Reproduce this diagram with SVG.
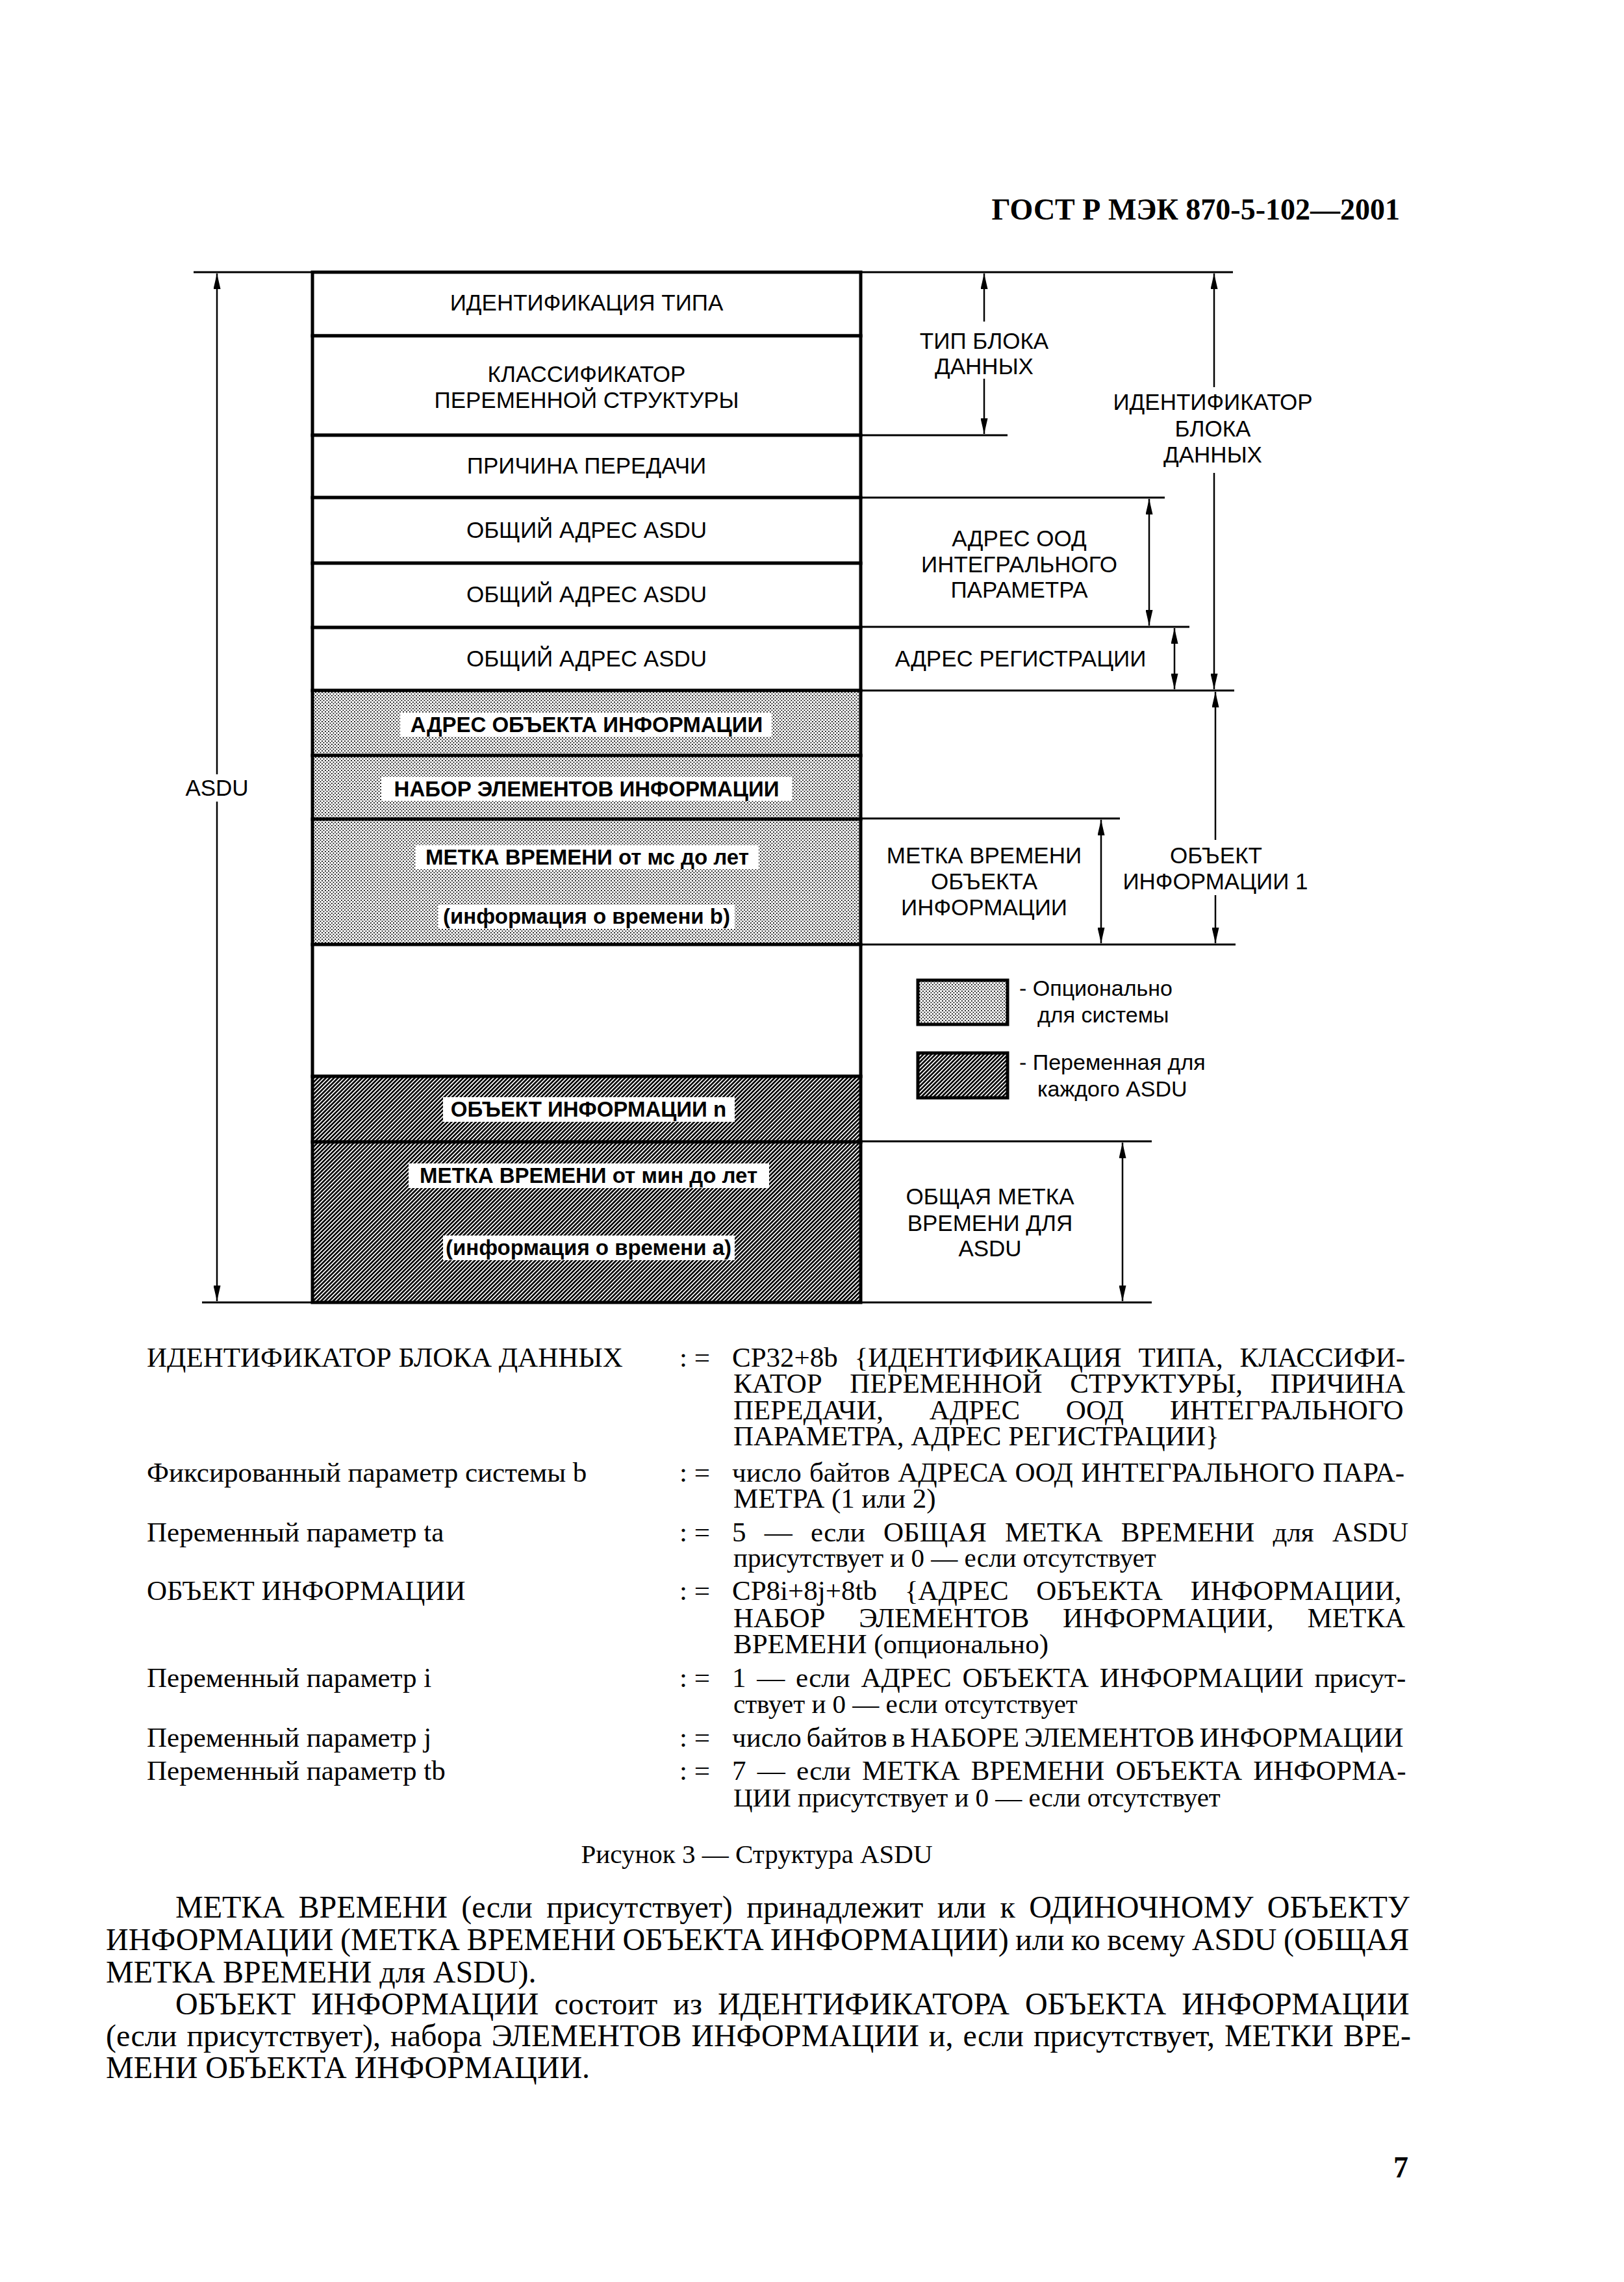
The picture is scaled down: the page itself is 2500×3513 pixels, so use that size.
<svg xmlns="http://www.w3.org/2000/svg" width="2500" height="3513" viewBox="0 0 2500 3513">
<defs>
<style>
.lbl{font-family:"Liberation Sans",Arial,sans-serif;font-size:35px;text-anchor:middle;fill:#000}
.lblb{font-family:"Liberation Sans",Arial,sans-serif;font-size:33px;font-weight:bold;text-anchor:middle;fill:#000}
.leg{font-family:"Liberation Sans",Arial,sans-serif;font-size:34px;fill:#000}
.row{stroke:#000;stroke-width:5}
.wbox{fill:#fff}
.dim{stroke:#000;stroke-width:3;fill:none}
.arr{stroke:#000;stroke-width:2.5;fill:none}
.body{font-family:"Liberation Serif","Times New Roman",serif;font-size:43px;fill:#000}
.small{font-size:41px}
.para{font-family:"Liberation Serif","Times New Roman",serif;font-size:48px;fill:#000}
.hdr{font-family:"Liberation Serif","Times New Roman",serif;font-size:46px;font-weight:bold;text-anchor:end;fill:#000}
</style>
<pattern id="dots" width="5" height="5" patternUnits="userSpaceOnUse">
<rect width="5" height="5" fill="#fff"/>
<rect x="0" y="0" width="1.8" height="1.8" fill="#000"/>
<rect x="2.5" y="2.5" width="1.8" height="1.8" fill="#000"/>
</pattern>
<pattern id="hatch" width="4.4" height="4.4" patternUnits="userSpaceOnUse" patternTransform="rotate(45)">
<rect width="4.4" height="4.4" fill="#fff"/>
<rect x="0" y="0" width="2.7" height="4.4" fill="#000"/>
</pattern>
<marker id="ah" viewBox="0 0 24 11" refX="24" refY="5.5" markerWidth="24" markerHeight="11" markerUnits="userSpaceOnUse" orient="auto-start-reverse">
<path d="M0,0 L24,5.5 L0,11 Z" fill="#000"/>
</marker>
</defs>
<rect width="2500" height="3513" fill="#fff"/>

<text id="header" class="hdr" x="2155" y="338">ГОСТ Р МЭК 870-5-102—2001</text>

<g id="connectors">
<line class="dim" x1="298" y1="419" x2="1898" y2="419"/>
<line class="dim" x1="311" y1="2005" x2="1773" y2="2005"/>
<line class="dim" x1="1325" y1="670" x2="1551" y2="670"/>
<line class="dim" x1="1325" y1="766" x2="1793" y2="766"/>
<line class="dim" x1="1325" y1="965" x2="1831" y2="965"/>
<line class="dim" x1="1325" y1="1063" x2="1900" y2="1063"/>
<line class="dim" x1="1325" y1="1260" x2="1724" y2="1260"/>
<line class="dim" x1="1325" y1="1454" x2="1902" y2="1454"/>
<line class="dim" x1="1325" y1="1757" x2="1773" y2="1757"/>
<path class="arr" d="M334,421 V1192" marker-start="url(#ah)"/>
<path class="arr" d="M334,1234 V2003" marker-end="url(#ah)"/>
<path class="arr" d="M1515,421 V495" marker-start="url(#ah)"/>
<path class="arr" d="M1515,583 V668" marker-end="url(#ah)"/>
<path class="arr" d="M1869,421 V596" marker-start="url(#ah)"/>
<path class="arr" d="M1869,728 V1061" marker-end="url(#ah)"/>
<path class="arr" d="M1769,768 V963" marker-start="url(#ah)" marker-end="url(#ah)"/>
<path class="arr" d="M1808,967 V1061" marker-start="url(#ah)" marker-end="url(#ah)"/>
<path class="arr" d="M1695,1262 V1452" marker-start="url(#ah)" marker-end="url(#ah)"/>
<path class="arr" d="M1871,1065 V1293" marker-start="url(#ah)"/>
<path class="arr" d="M1871,1378 V1452" marker-end="url(#ah)"/>
<path class="arr" d="M1728,1759 V2003" marker-start="url(#ah)" marker-end="url(#ah)"/>
</g>

<g id="asdu-label"><text class="lbl" x="334" y="1225">ASDU</text></g>

<g id="row-type-id"><rect class="row" x="481" y="419" width="844" height="98" fill="#fff"/><text class="lbl" x="903" y="478">ИДЕНТИФИКАЦИЯ ТИПА</text></g>
<g id="row-vsq"><rect class="row" x="481" y="517" width="844" height="153" fill="#fff"/><text class="lbl" x="903" y="588">КЛАССИФИКАТОР</text><text class="lbl" x="903" y="628">ПЕРЕМЕННОЙ СТРУКТУРЫ</text></g>
<g id="row-cot"><rect class="row" x="481" y="670" width="844" height="96" fill="#fff"/><text class="lbl" x="903" y="729">ПРИЧИНА ПЕРЕДАЧИ</text></g>
<g id="row-addr1"><rect class="row" x="481" y="766" width="844" height="101" fill="#fff"/><text class="lbl" x="903" y="828">ОБЩИЙ АДРЕС ASDU</text></g>
<g id="row-addr2"><rect class="row" x="481" y="867" width="844" height="99" fill="#fff"/><text class="lbl" x="903" y="927">ОБЩИЙ АДРЕС ASDU</text></g>
<g id="row-addr3"><rect class="row" x="481" y="966" width="844" height="97" fill="#fff"/><text class="lbl" x="903" y="1026">ОБЩИЙ АДРЕС ASDU</text></g>
<g id="row-ioa"><rect class="row" x="481" y="1063" width="844" height="100" fill="url(#dots)"/><rect class="wbox" x="616" y="1097" width="572" height="37"/><text class="lblb" x="903" y="1127">АДРЕС ОБЪЕКТА ИНФОРМАЦИИ</text></g>
<g id="row-elements"><rect class="row" x="481" y="1163" width="844" height="98" fill="url(#dots)"/><rect class="wbox" x="587" y="1196" width="632" height="37"/><text class="lblb" x="903" y="1226">НАБОР ЭЛЕМЕНТОВ ИНФОРМАЦИИ</text></g>
<g id="row-timetag-b"><rect class="row" x="481" y="1261" width="844" height="193" fill="url(#dots)"/><rect class="wbox" x="640" y="1301" width="528" height="37"/><text class="lblb" x="904" y="1331">МЕТКА ВРЕМЕНИ от мс до лет</text><rect class="wbox" x="675" y="1393" width="456" height="37"/><text class="lblb" x="903" y="1422">(информация о времени b)</text></g>
<g id="row-empty"><rect class="row" x="481" y="1454" width="844" height="203" fill="#fff"/></g>
<g id="row-object-n"><rect class="row" x="481" y="1657" width="844" height="101" fill="url(#hatch)"/><rect class="wbox" x="682" y="1689" width="449" height="38"/><text class="lblb" x="906" y="1719">ОБЪЕКТ ИНФОРМАЦИИ n</text></g>
<g id="row-timetag-a"><rect class="row" x="481" y="1758" width="844" height="247" fill="url(#hatch)"/><rect class="wbox" x="629" y="1791" width="555" height="38"/><text class="lblb" x="906" y="1821">МЕТКА ВРЕМЕНИ от мин до лет</text><rect class="wbox" x="682" y="1902" width="449" height="38"/><text class="lblb" x="906" y="1932">(информация о времени a)</text></g>

<g id="lbl-type"><text class="lbl" x="1515" y="537">ТИП БЛОКА</text><text class="lbl" x="1515" y="576">ДАННЫХ</text></g>
<g id="lbl-duid"><text class="lbl" x="1867" y="631">ИДЕНТИФИКАТОР</text><text class="lbl" x="1867" y="672">БЛОКА</text><text class="lbl" x="1867" y="712">ДАННЫХ</text></g>
<g id="lbl-ood"><text class="lbl" x="1569" y="841">АДРЕС ООД</text><text class="lbl" x="1569" y="881">ИНТЕГРАЛЬНОГО</text><text class="lbl" x="1569" y="920">ПАРАМЕТРА</text></g>
<g id="lbl-reg"><text class="lbl" x="1571" y="1026">АДРЕС РЕГИСТРАЦИИ</text></g>
<g id="lbl-tt-obj"><text class="lbl" x="1515" y="1329">МЕТКА ВРЕМЕНИ</text><text class="lbl" x="1515" y="1369">ОБЪЕКТА</text><text class="lbl" x="1515" y="1409">ИНФОРМАЦИИ</text></g>
<g id="lbl-obj1"><text class="lbl" x="1872" y="1329">ОБЪЕКТ</text><text class="lbl" x="1871" y="1369">ИНФОРМАЦИИ 1</text></g>
<g id="lbl-common-tt"><text class="lbl" x="1524" y="1854">ОБЩАЯ МЕТКА</text><text class="lbl" x="1524" y="1895">ВРЕМЕНИ ДЛЯ</text><text class="lbl" x="1524" y="1934">ASDU</text></g>

<g id="legend">
<rect x="1413" y="1509" width="138" height="68" fill="url(#dots)" stroke="#000" stroke-width="5"/>
<text class="leg" x="1569" y="1533">- Опционально</text>
<text class="leg" x="1597" y="1574">для системы</text>
<rect x="1413" y="1621" width="138" height="69" fill="url(#hatch)" stroke="#000" stroke-width="5"/>
<text class="leg" x="1569" y="1647">- Переменная для</text>
<text class="leg" x="1597" y="1688">каждого ASDU</text>
</g>

<g id="definitions">
<text class="body" x="226" y="2104">ИДЕНТИФИКАТОР БЛОКА ДАННЫХ</text>
<text class="body" x="1046" y="2104">: =</text>
<text class="body" x="1127" y="2104" style="word-spacing:15px">CP32+8b {ИДЕНТИФИКАЦИЯ ТИПА, КЛАССИФИ-</text>
<text class="body" x="1129" y="2144" style="word-spacing:32px">КАТОР ПЕРЕМЕННОЙ СТРУКТУРЫ, ПРИЧИНА</text>
<text class="body" x="1129" y="2185" style="word-spacing:60px">ПЕРЕДАЧИ, АДРЕС ООД ИНТЕГРАЛЬНОГО</text>
<text class="body" x="1129" y="2225">ПАРАМЕТРА, АДРЕС РЕГИСТРАЦИИ}</text>

<text class="body" x="226" y="2281">Фиксированный параметр системы b</text>
<text class="body" x="1046" y="2281">: =</text>
<text class="body" x="1127" y="2281" style="word-spacing:1.5px">число байтов АДРЕСА ООД ИНТЕГРАЛЬНОГО ПАРА-</text>
<text class="body" x="1129" y="2321">МЕТРА (1 или 2)</text>

<text class="body" x="226" y="2373">Переменный параметр ta</text>
<text class="body" x="1046" y="2373">: =</text>
<text class="body" x="1127" y="2373" style="word-spacing:17.5px">5 — если ОБЩАЯ МЕТКА ВРЕМЕНИ для ASDU</text>
<text class="body small" x="1129" y="2412">присутствует и 0 — если отсутствует</text>

<text class="body" x="226" y="2463">ОБЪЕКТ ИНФОРМАЦИИ</text>
<text class="body" x="1046" y="2463">: =</text>
<text class="body" x="1127" y="2463" style="word-spacing:32px">CP8i+8j+8tb {АДРЕС ОБЪЕКТА ИНФОРМАЦИИ,</text>
<text class="body" x="1129" y="2505" style="word-spacing:41px">НАБОР ЭЛЕМЕНТОВ ИНФОРМАЦИИ, МЕТКА</text>
<text class="body" x="1129" y="2545">ВРЕМЕНИ (опционально)</text>

<text class="body" x="226" y="2597">Переменный параметр i</text>
<text class="body" x="1046" y="2597">: =</text>
<text class="body" x="1127" y="2597" style="word-spacing:6px">1 — если АДРЕС ОБЪЕКТА ИНФОРМАЦИИ присут-</text>
<text class="body small" x="1129" y="2637">ствует и 0 — если отсутствует</text>

<text class="body" x="226" y="2689">Переменный параметр j</text>
<text class="body" x="1046" y="2689">: =</text>
<text class="body" x="1127" y="2689" style="word-spacing:-3px">число байтов в НАБОРЕ ЭЛЕМЕНТОВ ИНФОРМАЦИИ</text>

<text class="body" x="226" y="2740">Переменный параметр tb</text>
<text class="body" x="1046" y="2740">: =</text>
<text class="body" x="1127" y="2740" style="word-spacing:6.5px">7 — если МЕТКА ВРЕМЕНИ ОБЪЕКТА ИНФОРМА-</text>
<text class="body small" x="1129" y="2781">ЦИИ присутствует и 0 — если отсутствует</text>
</g>

<text id="caption" class="body" x="1165" y="2868" style="font-size:41px;text-anchor:middle">Рисунок 3 — Структура ASDU</text>

<g id="paragraph">
<text class="para" x="270" y="2952" style="word-spacing:9.5px">МЕТКА ВРЕМЕНИ (если присутствует) принадлежит или к ОДИНОЧНОМУ ОБЪЕКТУ</text>
<text class="para" x="163" y="3002" style="word-spacing:-1.5px">ИНФОРМАЦИИ (МЕТКА ВРЕМЕНИ ОБЪЕКТА ИНФОРМАЦИИ) или ко всему ASDU (ОБЩАЯ</text>
<text class="para" x="163" y="3052">МЕТКА ВРЕМЕНИ для ASDU).</text>
<text class="para" x="270" y="3101" style="word-spacing:12px">ОБЪЕКТ ИНФОРМАЦИИ состоит из ИДЕНТИФИКАТОРА ОБЪЕКТА ИНФОРМАЦИИ</text>
<text class="para" x="163" y="3150" style="word-spacing:3px">(если присутствует), набора ЭЛЕМЕНТОВ ИНФОРМАЦИИ и, если присутствует, МЕТКИ ВРЕ-</text>
<text class="para" x="163" y="3199">МЕНИ ОБЪЕКТА ИНФОРМАЦИИ.</text>
</g>

<text id="page-number" class="hdr" x="2168" y="3352">7</text>
</svg>
